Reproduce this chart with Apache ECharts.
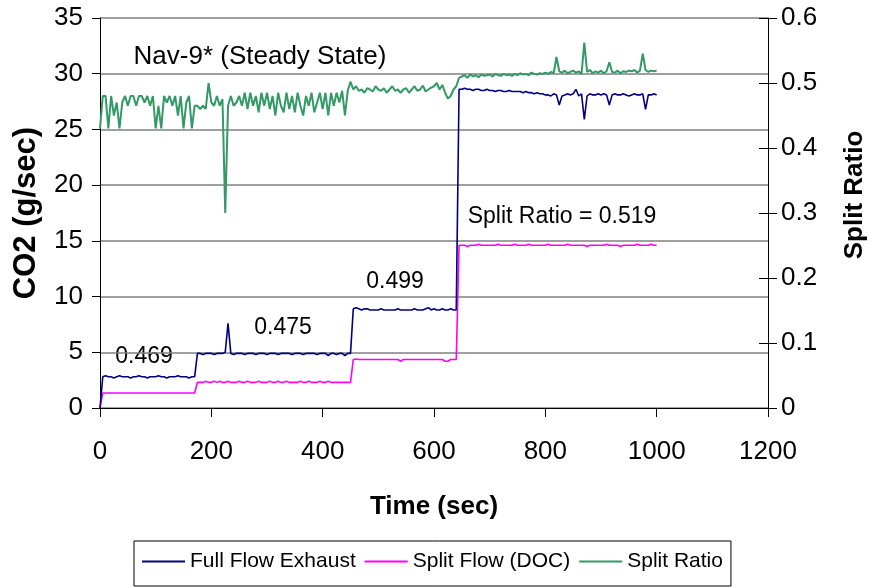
<!DOCTYPE html>
<html>
<head>
<meta charset="utf-8">
<title>Nav-9* (Steady State)</title>
<script src="https://cdn.jsdelivr.net/npm/echarts@6/dist/echarts.min.js"></script>
<style>
  html, body { margin: 0; padding: 0; background: #fff; }
  #chart { width: 876px; height: 587px; }
</style>
</head>
<body>
<div id="chart"></div>
<script>
// one sample every 5 s, 0 - 1000 s
var sampleStep = 5;

// Full Flow Exhaust, CO2 g/sec
var fullFlow = [
  0, 2.8, 2.9, 2.8, 2.8, 2.7, 2.8, 2.9, 2.8, 2.8,
  2.8, 2.7, 2.8, 2.8, 2.9, 2.8, 2.8, 2.7, 2.8, 2.8,
  2.8, 2.9, 2.8, 2.8, 2.7, 2.8, 2.8, 2.8, 2.9, 2.8,
  2.8, 2.8, 2.7, 2.8, 2.8, 4.9, 4.9, 4.8, 4.9, 4.9,
  4.9, 4.8, 4.9, 4.9, 4.9, 5.0, 7.6, 4.9, 4.8, 4.9,
  4.9, 4.9, 4.8, 4.9, 4.9, 4.9, 4.8, 4.9, 4.9, 4.9,
  4.8, 4.9, 4.9, 4.9, 4.8, 4.9, 4.9, 4.9, 4.9, 4.8,
  4.9, 4.9, 4.9, 4.8, 4.9, 4.9, 4.9, 4.9, 4.8, 4.9,
  4.9, 4.9, 4.7, 4.9, 4.9, 4.8, 4.9, 4.9, 4.7, 4.9,
  4.9, 8.9, 9.0, 8.9, 8.8, 8.9, 8.9, 8.8, 8.8, 8.8,
  8.8, 8.9, 8.8, 8.8, 8.8, 8.8, 8.8, 8.9, 8.8, 8.8,
  8.8, 8.8, 8.8, 8.9, 8.8, 8.8, 8.8, 8.9, 9.0, 8.8,
  8.9, 8.8, 8.8, 8.9, 8.8, 8.8, 8.9, 8.8, 8.8, 28.6,
  28.6, 28.7, 28.6, 28.6, 28.5, 28.6, 28.6, 28.5, 28.5, 28.6,
  28.5, 28.5, 28.4, 28.5, 28.5, 28.4, 28.4, 28.5, 28.4, 28.4,
  28.4, 28.4, 28.3, 28.4, 28.3, 28.3, 28.2, 28.3, 28.2, 28.2,
  28.1, 28.1, 28.0, 28.2, 28.1, 27.2, 28.0, 28.1, 28.2, 28.1,
  28.2, 28.6, 28.0, 28.2, 25.9, 28.0, 28.2, 28.1, 28.1, 28.2,
  28.1, 28.2, 28.1, 27.2, 28.1, 28.2, 28.1, 28.1, 28.2, 28.1,
  28.0, 28.1, 28.2, 28.1, 28.1, 28.2, 26.8, 28.1, 28.1, 28.2,
  28.1
];

// Split Flow (DOC), CO2 g/sec
var splitFlow = [
  0, 1.35, 1.35, 1.35, 1.35, 1.35, 1.35, 1.35, 1.35, 1.35,
  1.35, 1.35, 1.35, 1.35, 1.35, 1.35, 1.35, 1.35, 1.35, 1.35,
  1.35, 1.35, 1.35, 1.35, 1.35, 1.35, 1.35, 1.35, 1.35, 1.35,
  1.35, 1.35, 1.35, 1.35, 1.35, 2.3, 2.3, 2.3, 2.4, 2.3,
  2.3, 2.4, 2.3, 2.4, 2.3, 2.3, 2.4, 2.3, 2.3, 2.3,
  2.4, 2.3, 2.3, 2.4, 2.3, 2.3, 2.3, 2.4, 2.3, 2.3,
  2.3, 2.4, 2.3, 2.3, 2.4, 2.3, 2.3, 2.4, 2.3, 2.3,
  2.3, 2.3, 2.4, 2.3, 2.3, 2.4, 2.3, 2.3, 2.3, 2.4,
  2.3, 2.3, 2.4, 2.3, 2.3, 2.3, 2.3, 2.3, 2.3, 2.3,
  2.3, 4.35, 4.4, 4.35, 4.35, 4.35, 4.35, 4.35, 4.35, 4.35,
  4.35, 4.35, 4.35, 4.35, 4.35, 4.35, 4.35, 4.35, 4.2, 4.35,
  4.35, 4.35, 4.35, 4.35, 4.35, 4.35, 4.35, 4.35, 4.35, 4.35,
  4.35, 4.35, 4.35, 4.35, 4.2, 4.2, 4.35, 4.35, 4.35, 14.6,
  14.6, 14.6, 14.5, 14.6, 14.6, 14.6, 14.7, 14.6, 14.6, 14.6,
  14.6, 14.6, 14.6, 14.7, 14.6, 14.6, 14.6, 14.6, 14.6, 14.7,
  14.6, 14.6, 14.6, 14.6, 14.7, 14.6, 14.6, 14.6, 14.6, 14.6,
  14.6, 14.7, 14.6, 14.6, 14.6, 14.6, 14.6, 14.6, 14.7, 14.6,
  14.6, 14.6, 14.6, 14.6, 14.6, 14.5, 14.6, 14.6, 14.6, 14.6,
  14.6, 14.6, 14.7, 14.6, 14.6, 14.6, 14.6, 14.5, 14.6, 14.6,
  14.6, 14.6, 14.6, 14.7, 14.6, 14.6, 14.6, 14.6, 14.7, 14.6,
  14.6
];

// Split Ratio (right axis)
var splitRatio = [
  0.43, 0.48, 0.48, 0.43, 0.48, 0.45, 0.47, 0.43, 0.47, 0.48,
  0.465, 0.48, 0.48, 0.465, 0.48, 0.48, 0.47, 0.48, 0.465, 0.48,
  0.43, 0.465, 0.43, 0.48, 0.47, 0.48, 0.465, 0.48, 0.45, 0.48,
  0.43, 0.47, 0.48, 0.43, 0.465, 0.465, 0.46, 0.465, 0.46, 0.50,
  0.47, 0.465, 0.48, 0.465, 0.475, 0.30, 0.465, 0.48, 0.465, 0.47,
  0.48, 0.465, 0.485, 0.46, 0.485, 0.465, 0.48, 0.455, 0.485, 0.465,
  0.485, 0.46, 0.48, 0.45, 0.485, 0.465, 0.455, 0.485, 0.46, 0.48,
  0.455, 0.485, 0.465, 0.45, 0.48, 0.465, 0.485, 0.455, 0.47, 0.485,
  0.46, 0.485, 0.45, 0.485, 0.465, 0.485, 0.47, 0.488, 0.45, 0.488,
  0.502, 0.49, 0.495, 0.488, 0.49, 0.485, 0.492, 0.49, 0.487, 0.495,
  0.49, 0.488, 0.492, 0.485, 0.49, 0.495, 0.488, 0.49, 0.485, 0.49,
  0.492, 0.485, 0.49, 0.495, 0.488, 0.49, 0.496, 0.487, 0.49, 0.493,
  0.495, 0.5, 0.49, 0.497, 0.485, 0.476, 0.48, 0.49, 0.495, 0.508,
  0.51, 0.512, 0.508, 0.513, 0.51, 0.512, 0.509, 0.513, 0.511, 0.512,
  0.513, 0.51, 0.514, 0.512, 0.511, 0.514, 0.512, 0.513, 0.511, 0.514,
  0.512, 0.515, 0.513, 0.514, 0.512, 0.516, 0.514, 0.513, 0.515, 0.514,
  0.516, 0.514, 0.517, 0.515, 0.54, 0.518, 0.516, 0.519, 0.515, 0.517,
  0.519, 0.516, 0.518, 0.514, 0.562, 0.517, 0.52, 0.515, 0.518, 0.516,
  0.519, 0.515, 0.518, 0.532, 0.517, 0.516, 0.519, 0.515, 0.518, 0.517,
  0.519, 0.518, 0.52, 0.516, 0.519, 0.545, 0.52, 0.517, 0.519, 0.518,
  0.519
];

var seriesNames = ['Full Flow Exhaust', 'Split Flow (DOC)', 'Split Ratio'];
var notes = ['Nav-9* (Steady State)', '0.469', '0.475', '0.499', 'Split Ratio = 0.519'];

var font = "'Liberation Sans', Arial, sans-serif";

function pairs(values) {
  var out = [];
  for (var i = 0; i < values.length; i++) {
    out.push([i * sampleStep, values[i]]);
  }
  return out;
}

var chart = echarts.init(document.getElementById('chart'));

var noteStyle = { fontFamily: font, fontSize: 23, fill: '#000' };
function note(text, x, y, size) {
  return {
    type: 'text', x: x, y: y,
    style: Object.assign({}, noteStyle, { text: text, align: 'center', verticalAlign: 'middle', fontSize: size || noteStyle.fontSize })
  };
}

chart.setOption({
  animation: false,
  backgroundColor: '#fff',
  grid: { left: 100, right: 104, top: 18, bottom: 179, containLabel: false },
  legend: {
    data: seriesNames,
    left: 134,
    top: 541,
    padding: [10, 8, 14, 8],
    itemGap: 9,
    itemWidth: 43,
    itemHeight: 2,
    icon: 'rect',
    borderColor: '#000',
    borderWidth: 1,
    textStyle: { fontFamily: font, fontSize: 21, color: '#000' }
  },
  xAxis: {
    type: 'value',
    min: 0, max: 1200, interval: 200,
    name: 'Time (sec)',
    nameLocation: 'middle',
    nameGap: 86,
    nameTextStyle: { fontFamily: font, fontSize: 26, fontWeight: 'bold', color: '#000' },
    axisLine: { lineStyle: { color: '#000', width: 1 } },
    axisTick: { length: 9, lineStyle: { color: '#000' } },
    axisLabel: { margin: 31, fontFamily: font, fontSize: 26, color: '#000', formatter: function (v) { return String(v); } },
    splitLine: { show: false }
  },
  yAxis: [{
    type: 'value',
    min: 0, max: 35, interval: 5,
    name: 'CO2 (g/sec)',
    nameLocation: 'middle',
    nameRotate: 90,
    nameGap: 58,
    nameTextStyle: { fontFamily: font, fontSize: 31, fontWeight: 'bold', color: '#000' },
    axisLine: { show: true, lineStyle: { color: '#000', width: 1 } },
    axisTick: { show: true, length: 8, lineStyle: { color: '#000' } },
    axisLabel: { margin: 17, fontFamily: font, fontSize: 26, color: '#000' },
    splitLine: { show: true, lineStyle: { color: '#808080', width: 1.5 } }
  }, {
    type: 'value',
    position: 'right',
    min: 0, max: 0.6, interval: 0.1,
    name: 'Split Ratio',
    nameLocation: 'middle',
    nameRotate: 90,
    nameGap: 74,
    nameTextStyle: { fontFamily: font, fontSize: 26, fontWeight: 'bold', color: '#000', padding: [0, 0, 0, 36] },
    axisLine: { show: true, lineStyle: { color: '#000', width: 1 } },
    axisTick: { show: true, length: 9, lineStyle: { color: '#000' } },
    axisLabel: { margin: 13, fontFamily: font, fontSize: 26, color: '#000' },
    splitLine: { show: false }
  }, {
    // inner half of the right-hand ticks
    type: 'value',
    position: 'right',
    min: 0, max: 0.6, interval: 0.1,
    axisLine: { show: false },
    axisTick: { show: true, inside: true, length: 9, lineStyle: { color: '#000' } },
    axisLabel: { show: false },
    splitLine: { show: false }
  }],
  series: [{
    name: seriesNames[0],
    type: 'line',
    yAxisIndex: 0,
    showSymbol: false,
    color: '#000080',
    lineStyle: { width: 1.6 },
    data: pairs(fullFlow),
    z: 4
  }, {
    name: seriesNames[1],
    type: 'line',
    yAxisIndex: 0,
    showSymbol: false,
    color: '#ff00ff',
    lineStyle: { width: 1.6 },
    data: pairs(splitFlow),
    z: 3
  }, {
    name: seriesNames[2],
    type: 'line',
    yAxisIndex: 1,
    showSymbol: false,
    color: '#339966',
    lineStyle: { width: 2 },
    data: pairs(splitRatio),
    z: 2
  }],
  graphic: [
    note(notes[0], 260, 57, 26),
    note(notes[1], 144, 357),
    note(notes[2], 283, 328),
    note(notes[3], 395, 282),
    note(notes[4], 562, 217)
  ]
});
</script>
</body>
</html>
